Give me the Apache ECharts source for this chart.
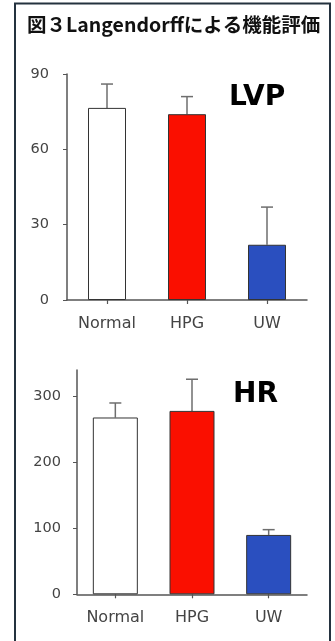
<!DOCTYPE html>
<html>
<head>
<meta charset="utf-8">
<script src="https://cdn.jsdelivr.net/npm/echarts@6/dist/echarts.min.js"></script>
<style>
html,body{margin:0;padding:0;background:#fff;}
#c{width:335px;height:641px;}
</style>
</head>
<body>
<div id="c"></div>
<script>
const titleText = '図３Langendorffによる機能評価';
const categories = ['Normal', 'HPG', 'UW'];
const lvpMean = [76.5, 74, 22];
const lvpUpper = [86, 81, 37];
const hrMean = [268, 278, 90];
const hrUpper = [290, 326, 98];
const lvpTicks = [0, 30, 60, 90];
const hrTicks = [0, 100, 200, 300];
const barColors = ['#ffffff', '#fa0f00', '#2a4fbf'];

const chart = echarts.init(document.getElementById('c'), null, {renderer: 'canvas'});

function errRender(capHalf) {
  return function (params, api) {
    const x = api.value(0);
    const top = api.coord([x, api.value(2)]);
    const base = api.coord([x, api.value(1)]);
    const st = {stroke: '#6e6e6e', lineWidth: 1.5};
    return {
      type: 'group',
      children: [
        {type: 'line', shape: {x1: top[0], y1: base[1], x2: top[0], y2: top[1]}, style: st},
        {type: 'line', shape: {x1: top[0] - capHalf, y1: top[1], x2: top[0] + capHalf, y2: top[1]}, style: st}
      ]
    };
  };
}

const axisTextY = {color: '#444', fontFamily: 'DejaVu Sans', fontSize: 14.5};
const axisTextX = {color: '#444', fontFamily: 'DejaVu Sans', fontSize: 16};

function xAxis(gi, margin) {
  return {
    type: 'category', gridIndex: gi, data: categories,
    axisLine: {lineStyle: {color: '#555', width: 1.5}},
    axisTick: {show: true, alignWithLabel: true, length: 4, lineStyle: {color: '#555', width: 1.2}},
    axisLabel: Object.assign({margin: margin}, axisTextX)
  };
}

const option = {
  backgroundColor: '#ffffff',
  animation: false,
  graphic: [
    {type: 'rect', shape: {x: 15, y: 3.5, width: 315, height: 700},
     style: {fill: 'none', stroke: '#24323f', lineWidth: 2}, silent: true},
    {type: 'text', x: 27, y: 25,
     style: {text: titleText, fontFamily: 'Noto Sans CJK JP', fontWeight: 'bold', fontSize: 19.5,
             fill: '#111', verticalAlign: 'middle', align: 'left'}},
    {type: 'text', x: 229, y: 98,
     style: {text: 'LVP', fontFamily: 'DejaVu Sans', fontWeight: 'bold', fontSize: 28,
             fill: '#000', verticalAlign: 'middle', align: 'left'}},
    {type: 'text', x: 233, y: 395,
     style: {text: 'HR', fontFamily: 'DejaVu Sans', fontWeight: 'bold', fontSize: 28,
             fill: '#000', verticalAlign: 'middle', align: 'left'}}
  ],
  grid: [
    {left: 67, right: 28, top: 74, height: 226},
    {left: 77, right: 28, top: 370, height: 224.3}
  ],
  xAxis: [xAxis(0, 16), xAxis(1, 16)],
  yAxis: [
    {type: 'value', gridIndex: 0, min: lvpTicks[0], max: lvpTicks[lvpTicks.length - 1], interval: 30,
     splitLine: {show: false},
     axisLine: {show: true, lineStyle: {color: '#555', width: 1.5}},
     axisTick: {show: true, length: 4, lineStyle: {color: '#555'}},
     axisLabel: Object.assign({margin: 18}, axisTextY)},
    {type: 'value', gridIndex: 1, min: hrTicks[0], max: 340, interval: 100,
     splitLine: {show: false},
     axisLine: {show: true, lineStyle: {color: '#555', width: 1.5}},
     axisTick: {show: true, length: 4, lineStyle: {color: '#555'}, customValues: hrTicks},
     axisLabel: Object.assign({margin: 16, customValues: hrTicks}, axisTextY)}
  ],
  series: [
    {type: 'bar', xAxisIndex: 0, yAxisIndex: 0, barWidth: 38,
     data: lvpMean.map((v, i) => ({value: v, itemStyle: {color: barColors[i], borderColor: '#333', borderWidth: 1}}))},
    {type: 'custom', xAxisIndex: 0, yAxisIndex: 0, renderItem: errRender(6),
     encode: {x: 0, y: [1, 2]}, z: 1,
     data: lvpMean.map((v, i) => [i, v, lvpUpper[i]])},
    {type: 'bar', xAxisIndex: 1, yAxisIndex: 1, barWidth: 45,
     data: hrMean.map((v, i) => ({value: v, itemStyle: {color: barColors[i], borderColor: '#333', borderWidth: 1}}))},
    {type: 'custom', xAxisIndex: 1, yAxisIndex: 1, renderItem: errRender(6),
     encode: {x: 0, y: [1, 2]}, z: 1,
     data: hrMean.map((v, i) => [i, v, hrUpper[i]])}
  ]
};
chart.setOption(option);
</script>
</body>
</html>
